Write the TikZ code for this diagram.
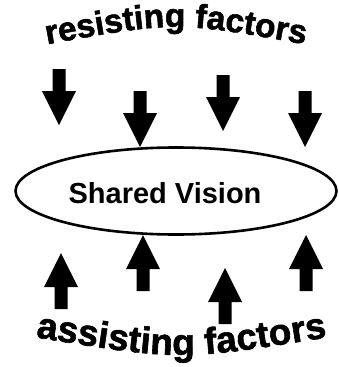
\documentclass[tikz,border=0pt]{standalone}
\usepackage{fontspec}
\setmainfont{Liberation Sans}
\newfontfamily\heavyfont[FakeBold=1.6]{Liberation Sans Bold}
\usetikzlibrary{decorations.text,shapes.geometric}
\newcommand{\toptxtfont}{\fontsize{33.5}{38}\selectfont\heavyfont}
\newcommand{\bottxtfont}{\fontsize{37}{42}\selectfont\heavyfont}
\tikzset{
  arr/.pic={\fill[black] (0,0) -- (17,34) -- (6.5,34) -- (6.5,56) -- (-6.5,56) -- (-6.5,34) -- (-17,34) -- cycle;},
  curvetext/.style={decorate, decoration={text along path, text align=center, text format delimiters={|}{|}, text={#1}}}
}
\begin{document}
\begin{tikzpicture}[x=1pt,y=-1pt]
\useasboundingbox (0,0) rectangle (339,367);
% title along arcs
\path[font=\toptxtfont, curvetext={|\toptxtfont|resisting factors}]
  (43,45) .. controls (175,21) .. (309,45);
\path[font=\bottxtfont, curvetext={|\bottxtfont|assisting factors}]
  (34,337) .. controls (181,361) .. (329,337);
% ellipse
\node[draw, line width=2.6pt, ellipse, minimum width=321, minimum height=87, inner sep=0] (sv) at (176,191) {};
\node[font=\fontsize{29}{33}\selectfont\bfseries, anchor=base] (svt) at (165,203) {Shared Vision};
% resisting (down) arrows, placed at their tips
\pic[yscale=-1] at (59,125) {arr};
\pic[yscale=-1] at (140,147) {arr};
\pic[yscale=-1] at (223,131) {arr};
\pic[yscale=-1] at (305,147) {arr};
% assisting (up) arrows
\pic at (61,253) {arr};
\pic at (143,235) {arr};
\pic at (225,268) {arr};
\pic at (306,235) {arr};
\end{tikzpicture}
\end{document}
